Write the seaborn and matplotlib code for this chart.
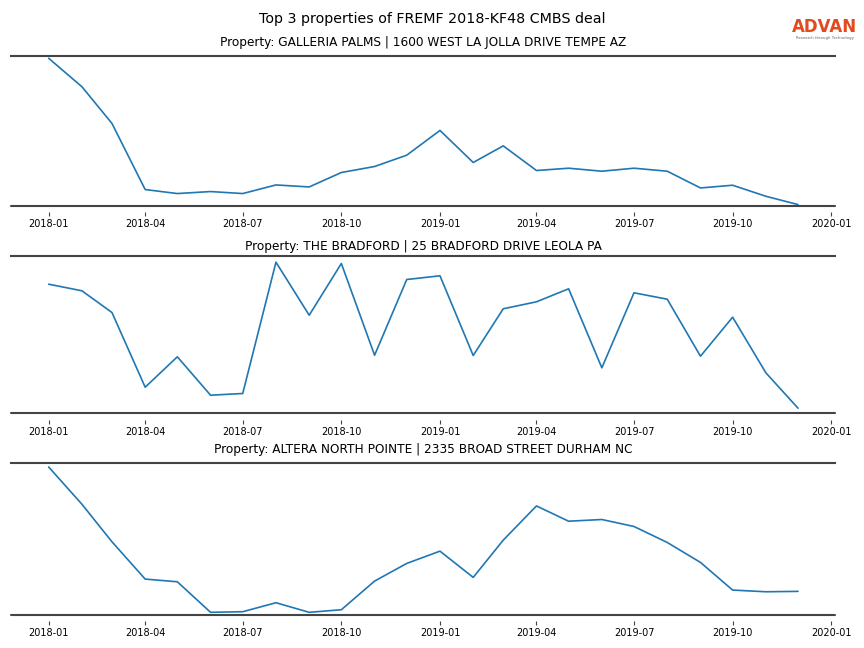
import pandas as pd
import matplotlib
matplotlib.use("Agg")
import matplotlib.pyplot as plt
import matplotlib.dates as mdates
import seaborn as sns

months = pd.date_range("2018-01-01", "2019-12-01", freq="MS")

deal_title = "Top 3 properties of FREMF 2018-KF48 CMBS deal"

property_titles = [
    "Property: GALLERIA PALMS | 1600 WEST LA JOLLA DRIVE TEMPE AZ",
    "Property: THE BRADFORD | 25 BRADFORD DRIVE LEOLA PA",
    "Property: ALTERA NORTH POINTE | 2335 BROAD STREET DURHAM NC",
]

# monthly foot traffic (relative units)
galleria_palms = [147.4, 119.0, 82.4, 16.4, 12.4, 14.4, 12.4, 21.0, 19.0, 33.4,
                  39.4, 50.7, 75.4, 43.4, 60.0, 35.4, 37.7, 34.7, 37.7, 34.7,
                  18.0, 20.7, 9.7, 1.4]
the_bradford = [129.3, 122.7, 101.0, 26.3, 56.7, 18.3, 20.0, 151.3, 98.3, 150.0,
                58.3, 134.0, 137.7, 58.0, 104.7, 111.7, 124.7, 45.7, 120.7, 114.3,
                57.3, 96.3, 40.7, 5.3]
altera_north_pointe = [148.3, 111.0, 73.4, 36.0, 33.3, 2.7, 3.3, 12.3, 2.7, 5.3,
                       34.0, 51.7, 64.0, 37.7, 75.0, 109.3, 94.0, 95.7, 88.7, 72.7,
                       52.7, 25.0, 23.3, 23.7]

series = [galleria_palms, the_bradford, altera_north_pointe]
y_limits = [(0, 149.7), (0, 158.0), (0, 152.3)]
title_pads = [7, 4, 7]

sns.set_style("white")
plt.rcParams["font.family"] = ["DejaVu Sans"]
plt.rcParams["text.color"] = "black"
plt.rcParams["xtick.color"] = "black"

fig, axes = plt.subplots(3, 1, figsize=(8.64, 6.48), dpi=100,
                         gridspec_kw={"height_ratios": [150, 158, 152]})
fig.subplots_adjust(left=0.013, right=0.967, top=0.9136, bottom=0.0509, hspace=0.323)

for ax, title, values, ylim, tpad in zip(axes, property_titles, series, y_limits, title_pads):
    df = pd.DataFrame({"month": months, "traffic": values})
    sns.lineplot(data=df, x="month", y="traffic", ax=ax, color="#1f77b4", linewidth=1.2)
    ax.set_ylim(*ylim)
    ax.set_title(title, fontsize=8.7, pad=tpad)
    ax.set_xlabel("")
    ax.set_ylabel("")
    ax.set_yticks([])
    ax.xaxis.set_major_locator(mdates.MonthLocator(bymonth=[1, 4, 7, 10]))
    ax.xaxis.set_major_formatter(mdates.DateFormatter("%Y-%m"))
    # ticks hang a little below the frame line
    ax.spines["bottom"].set_position(("outward", 4.5))
    ax.spines["bottom"].set_visible(False)
    ax.tick_params(axis="x", labelsize=7, length=3, width=0.8, color="#444444",
                   bottom=True, direction="out", pad=2)
    for side in ["left", "right"]:
        ax.spines[side].set_visible(False)
    ax.spines["top"].set_color("#444444")
    ax.spines["top"].set_linewidth(1.5)
    ax.axhline(ylim[0], color="#444444", linewidth=1.5, clip_on=False, zorder=3)

fig.suptitle(deal_title, fontsize=10.3, y=0.970, va="center")

# Advan logo
fig.text(0.9545, 0.958, "ADVAN", color="#e34a1f", fontsize=12, fontweight="semibold",
         ha="center", va="center")
fig.text(0.9545, 0.941, "Research through Technology", color="#666666", fontsize=2.8,
         ha="center", va="center")

plt.savefig("out.png", dpi=100)
